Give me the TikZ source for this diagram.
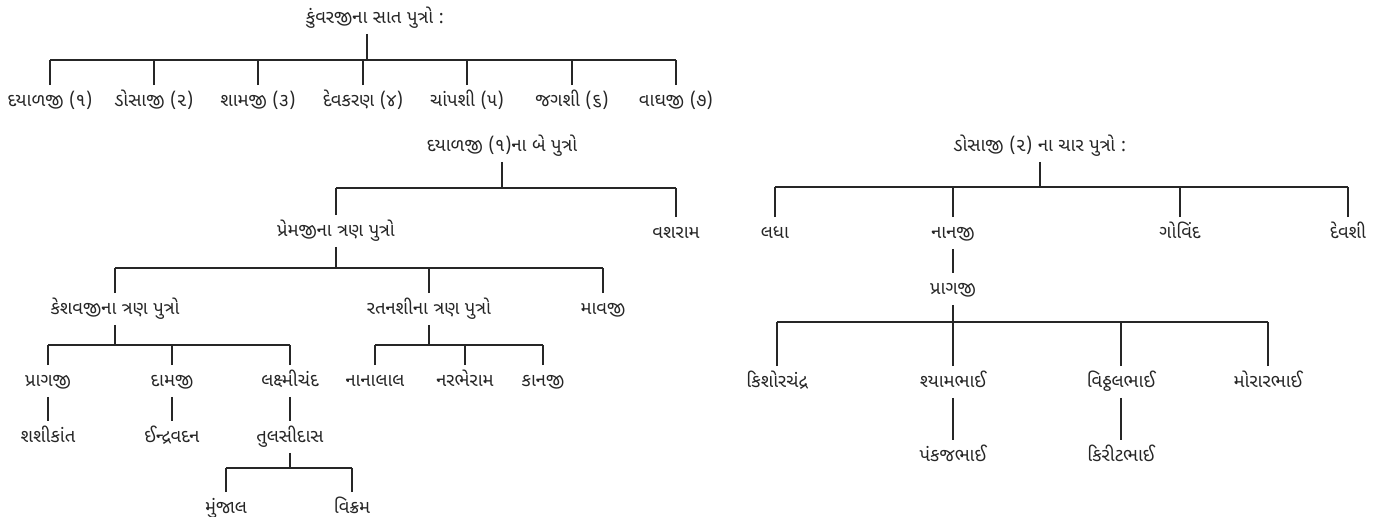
\documentclass[tikz,border=0pt]{standalone}
\usepackage{fontspec}
\newfontfamily\gujfont[Script=Gujarati]{Noto Sans Gujarati UI}

\begin{document}
\begin{tikzpicture}[%
        x = 0.02cm,
        y = -0.02cm,
        line width = 0.85pt,
        color = black!85,
        person/.style = {
            font = \gujfont\fontsize{10.5}{12}\selectfont,
            inner sep = 0pt,
            outer sep = 4pt,
            text height = 8pt,
            text depth = 2pt
        }
    ]

        \useasboundingbox (0, 0) rectangle (1394, 517);

        % Kunvarji and his seven sons.
        \node[person] (kunvar)   at (375, 18)  {કુંવરજીના સાત પુત્રો :};
        \node[person] (dayal)    at (50, 101)  {દયાળજી (૧)};
        \node[person] (dosa)     at (154, 101) {ડોસાજી (૨)};
        \node[person] (sham)     at (258, 101) {શામજી (૩)};
        \node[person] (devkaran) at (363, 101) {દેવકરણ (૪)};
        \node[person] (champshi) at (467, 101) {ચાંપશી (૫)};
        \node[person] (jagshi)   at (572, 101) {જગશી (૬)};
        \node[person] (vaghji)   at (676, 101) {વાઘજી (૭)};

        \coordinate (kunvar bar) at (367, 60);
        \draw (kunvar bar |- kunvar.south) to (kunvar bar);
        \draw (dayal |- kunvar bar) to (vaghji |- kunvar bar);
        \foreach \son in {dayal, dosa, sham, devkaran, champshi, jagshi, vaghji}
            \draw (\son) to (\son |- kunvar bar);

        % The two sons of Dayalji.
        \node[person] (dayal head) at (502, 146) {દયાળજી (૧)ના બે પુત્રો};
        \node[person] (premji)     at (336, 231) {પ્રેમજીના ત્રણ પુત્રો};
        \node[person] (vashram)    at (676, 233) {વશરામ};

        \coordinate (dayal bar) at (502, 188);
        \draw (dayal head) to (dayal bar);
        \draw (premji |- dayal bar) to (vashram |- dayal bar);
        \draw (premji) to (premji |- dayal bar);
        \draw (vashram) to (vashram |- dayal bar);

        % The three sons of Premji.
        \node[person] (keshav) at (115, 309) {કેશવજીના ત્રણ પુત્રો};
        \node[person] (ratan)  at (429, 309) {રતનશીના ત્રણ પુત્રો};
        \node[person] (mavji)  at (603, 309) {માવજી};

        \coordinate (premji bar) at (336, 268);
        \draw (premji) to (premji bar);
        \draw (keshav |- premji bar) to (mavji |- premji bar);
        \foreach \son in {keshav, ratan, mavji}
            \draw (\son) to (\son |- premji bar);

        % Sons of Keshavji and of Ratanshi.
        \node[person] (pragji)    at (48, 381)  {પ્રાગજી};
        \node[person] (damji)     at (172, 381) {દામજી};
        \node[person] (laxmi)     at (290, 381) {લક્ષ્મીચંદ};
        \node[person] (nanalal)   at (375, 381) {નાનાલાલ};
        \node[person] (narbheram) at (465, 381) {નરભેરામ};
        \node[person] (kanji)     at (543, 381) {કાનજી};

        \coordinate (keshav bar) at (115, 345);
        \draw (keshav) to (keshav bar);
        \draw (pragji |- keshav bar) to (laxmi |- keshav bar);
        \foreach \son in {pragji, damji, laxmi}
            \draw (\son) to (\son |- keshav bar);

        \coordinate (ratan bar) at (429, 345);
        \draw (ratan) to (ratan bar);
        \draw (nanalal |- ratan bar) to (kanji |- ratan bar);
        \foreach \son in {nanalal, narbheram, kanji}
            \draw (\son) to (\son |- ratan bar);

        % One son each.
        \node[person] (shashi) at (48, 437)  {શશીકાંત};
        \node[person] (indra)  at (172, 437) {ઈન્દ્રવદન};
        \node[person] (tulsi)  at (290, 437) {તુલસીદાસ};
        \draw (pragji) to (shashi);
        \draw (damji) to (indra);
        \draw (laxmi) to (tulsi);

        % The two sons of Tulsidas.
        \node[person] (munjal) at (226, 508) {મુંજાલ};
        \node[person] (vikram) at (352, 508) {વિક્રમ};

        \coordinate (tulsi bar) at (290, 468);
        \draw (tulsi) to (tulsi bar);
        \draw (munjal |- tulsi bar) to (vikram |- tulsi bar);
        \draw (munjal) to (munjal |- tulsi bar);
        \draw (vikram) to (vikram |- tulsi bar);

        % The four sons of Dosaji.
        \node[person] (dosa head) at (1040, 146) {ડોસાજી (૨) ના ચાર પુત્રો :};
        \node[person] (ladha)     at (775, 233)  {લધા};
        \node[person] (nanji)     at (953, 233)  {નાનજી};
        \node[person] (govind)    at (1180, 233) {ગોવિંદ};
        \node[person] (devshi)    at (1348, 233) {દેવશી};

        \coordinate (dosa bar) at (1040, 187);
        \draw (dosa head) to (dosa bar);
        \draw (ladha |- dosa bar) to (devshi |- dosa bar);
        \foreach \son in {ladha, nanji, govind, devshi}
            \draw (\son) to (\son |- dosa bar);

        % Pragji, son of Nanji, and his four sons.
        \node[person] (pragji two) at (953, 289) {પ્રાગજી};
        \draw (nanji) to (pragji two);

        \node[person] (kishor)  at (777, 382)  {કિશોરચંદ્ર};
        \node[person] (shyam)   at (953, 382)  {શ્યામભાઈ};
        \node[person] (vitthal) at (1121, 382) {વિઠ્ઠલભાઈ};
        \node[person] (morar)   at (1268, 382) {મોરારભાઈ};

        \coordinate (pragji bar) at (953, 322);
        \draw (pragji two) to (pragji bar);
        \draw (kishor |- pragji bar) to (morar |- pragji bar);
        \foreach \son in {kishor, shyam, vitthal, morar}
            \draw (\son) to (\son |- pragji bar);

        % Grandsons of Pragji.
        \node[person] (pankaj) at (953, 456)  {પંકજભાઈ};
        \node[person] (kirit)  at (1121, 456) {કિરીટભાઈ};
        \draw (shyam) to (pankaj);
        \draw (vitthal) to (kirit);
    \end{tikzpicture}
\end{document}
